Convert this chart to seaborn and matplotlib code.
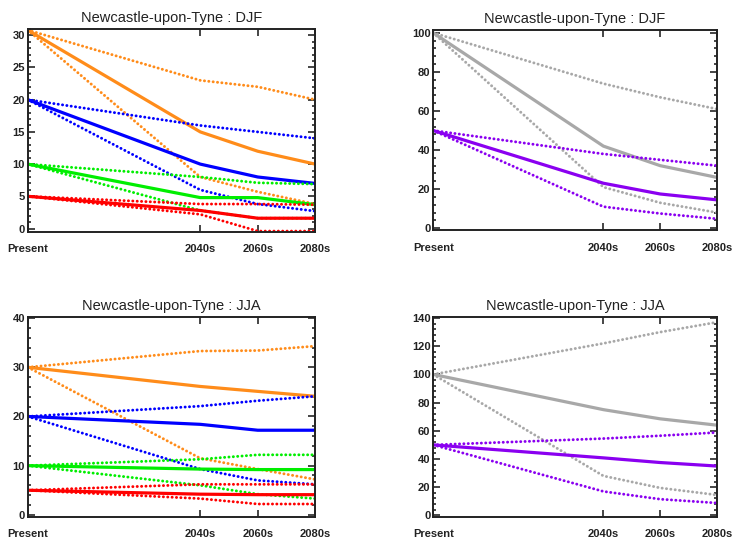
"""Newcastle-upon-Tyne seasonal projections, DJF and JJA, four panels."""

import matplotlib
matplotlib.use("Agg")
import matplotlib.pyplot as plt
from matplotlib.ticker import MultipleLocator
import seaborn as sns


PERIODS = ["Present", "2040s", "2060s", "2080s"]
YEARS = [1980, 2040, 2060, 2080]

# DJF, left panel: (central, upper, lower)
DJF_ORANGE = [30.8, 15, 12, 10]
DJF_ORANGE_HI = [30.8, 23, 22, 20]
DJF_ORANGE_LO = [30.8, 8, 5.7, 3.8]
DJF_BLUE = [20, 10, 8, 7]
DJF_BLUE_HI = [20, 16, 15, 14]
DJF_BLUE_LO = [20, 6, 3.8, 2.7]
DJF_GREEN = [10, 4.8, 4.8, 3.7]
DJF_GREEN_HI = [10, 8, 7.1, 6.9]
DJF_GREEN_LO = [10, 2.8, 1.6, 1.6]
DJF_RED = [5, 2.8, 1.6, 1.6]
DJF_RED_HI = [5, 3.8, 3.8, 3.7]
DJF_RED_LO = [5, 2.2, -0.4, -0.4]

# DJF, right panel
DJF_GREY = [100, 42, 32, 26]
DJF_GREY_HI = [100, 74, 67, 61]
DJF_GREY_LO = [100, 21, 13, 8]
DJF_PURPLE = [50, 23, 17.5, 14.5]
DJF_PURPLE_HI = [50, 38, 35, 32]
DJF_PURPLE_LO = [50, 11, 7.5, 4.8]

# JJA, left panel
JJA_ORANGE = [30, 26.1, 25.1, 24.1]
JJA_ORANGE_HI = [30, 33.3, 33.4, 34.3]
JJA_ORANGE_LO = [30, 11.5, 9.3, 7.2]
JJA_BLUE = [20, 18.4, 17.2, 17.2]
JJA_BLUE_HI = [20, 22.1, 23.2, 24.1]
JJA_BLUE_LO = [20, 9.3, 7, 6.2]
JJA_GREEN = [10, 9.3, 9.2, 9.2]
JJA_GREEN_HI = [10, 11.3, 12.2, 12.2]
JJA_GREEN_LO = [10, 6, 4.2, 3.3]
JJA_RED = [5, 4.2, 4.1, 4.1]
JJA_RED_HI = [5, 6.2, 6.2, 6.2]
JJA_RED_LO = [5, 3.3, 2.2, 2.2]

# JJA, right panel
JJA_GREY = [100, 75, 68.5, 64]
JJA_GREY_HI = [100, 122, 130, 137]
JJA_GREY_LO = [100, 28, 19.5, 14.5]
JJA_PURPLE = [50, 40.8, 37.5, 35]
JJA_PURPLE_HI = [50, 54.5, 56.5, 58.8]
JJA_PURPLE_LO = [50, 17, 11.5, 8.8]

ORANGE = "#ff8c1a"
BLUE = "#0000ff"
GREEN = "#00ee00"
RED = "#ff0000"
GREY = "#a8a8a8"
PURPLE = "#8a00f0"

TITLE_DJF = "Newcastle-upon-Tyne : DJF"
TITLE_JJA = "Newcastle-upon-Tyne : JJA"


def draw_group(ax, colour, mid, hi, lo):
    """Draw a central line with its dotted upper and lower bounds."""
    for vals in (hi, lo):
        sns.lineplot(x=YEARS, y=vals, ax=ax, color=colour, linewidth=2.1,
                     linestyle=(0, (0.05, 1.45)), dash_capstyle="round")
    sns.lineplot(x=YEARS, y=mid, ax=ax, color=colour, linewidth=2.3)


def style_axes(ax, title, ylim, major, minor):
    ax.set_xlim(YEARS[0], YEARS[-1])
    ax.set_ylim(*ylim)
    ax.set_xticks(YEARS)
    ax.set_xticklabels(PERIODS)
    ax.yaxis.set_major_locator(MultipleLocator(major))
    ax.yaxis.set_minor_locator(MultipleLocator(minor))
    ax.tick_params(which="both", direction="in", top=True, right=True,
                   width=1.2, labelsize=8, labelcolor="#222222")
    ax.tick_params(which="major", length=5)
    ax.tick_params(which="minor", length=2.5)
    ax.tick_params(axis="x", pad=9)
    ax.tick_params(axis="y", pad=2)
    for label in ax.get_xticklabels() + ax.get_yticklabels():
        label.set_fontweight("bold")
    for spine in ax.spines.values():
        spine.set_linewidth(1.4)
        spine.set_color("#222222")
    ax.set_title(title, fontsize=10.5, pad=5, color="#222222")
    ax.set_xlabel("")
    ax.set_ylabel("")


def main() -> None:
    sns.set_theme(style="ticks")
    plt.rcParams["font.family"] = ["Liberation Sans", "DejaVu Sans"]

    fig = plt.figure(figsize=(7.33, 5.44), dpi=100)
    ax_tl = fig.add_axes([0.038, 0.574, 0.392, 0.373])
    ax_tr = fig.add_axes([0.591, 0.577, 0.387, 0.368])
    ax_bl = fig.add_axes([0.038, 0.050, 0.392, 0.368])
    ax_br = fig.add_axes([0.591, 0.050, 0.387, 0.368])

    draw_group(ax_tl, ORANGE, DJF_ORANGE, DJF_ORANGE_HI, DJF_ORANGE_LO)
    draw_group(ax_tl, BLUE, DJF_BLUE, DJF_BLUE_HI, DJF_BLUE_LO)
    draw_group(ax_tl, GREEN, DJF_GREEN, DJF_GREEN_HI, DJF_GREEN_LO)
    draw_group(ax_tl, RED, DJF_RED, DJF_RED_HI, DJF_RED_LO)
    style_axes(ax_tl, TITLE_DJF, (-0.5, 31), 5, 1)

    draw_group(ax_tr, GREY, DJF_GREY, DJF_GREY_HI, DJF_GREY_LO)
    draw_group(ax_tr, PURPLE, DJF_PURPLE, DJF_PURPLE_HI, DJF_PURPLE_LO)
    style_axes(ax_tr, TITLE_DJF, (-1, 101.5), 20, 4)

    draw_group(ax_bl, ORANGE, JJA_ORANGE, JJA_ORANGE_HI, JJA_ORANGE_LO)
    draw_group(ax_bl, BLUE, JJA_BLUE, JJA_BLUE_HI, JJA_BLUE_LO)
    draw_group(ax_bl, GREEN, JJA_GREEN, JJA_GREEN_HI, JJA_GREEN_LO)
    draw_group(ax_bl, RED, JJA_RED, JJA_RED_HI, JJA_RED_LO)
    style_axes(ax_bl, TITLE_JJA, (-0.4, 40.3), 10, 2)

    draw_group(ax_br, GREY, JJA_GREY, JJA_GREY_HI, JJA_GREY_LO)
    draw_group(ax_br, PURPLE, JJA_PURPLE, JJA_PURPLE_HI, JJA_PURPLE_LO)
    style_axes(ax_br, TITLE_JJA, (-1, 141), 20, 4)

    fig.savefig("out.png", dpi=100, facecolor="white")
    plt.close(fig)


if __name__ == "__main__":
    main()
